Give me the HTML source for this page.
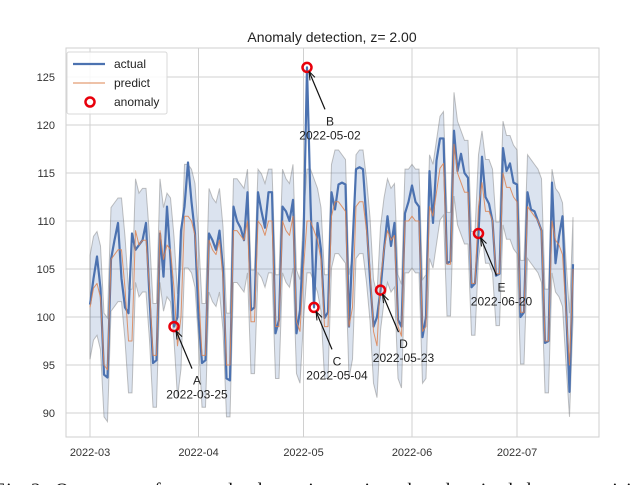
<!DOCTYPE html>
<html><head><meta charset="utf-8">
<style>
html,body{margin:0;padding:0;background:#fff;overflow:hidden;}
body{width:640px;height:485px;}
svg{display:block;}
text{font-family:"Liberation Sans","DejaVu Sans",sans-serif;}
</style></head>
<body>
<svg id="chart" width="640" height="485" viewBox="0 0 640 485"></svg>
<script>
// ---- data ----
const monthTicks = ["2022-03","2022-04","2022-05","2022-06","2022-07"];
const monthTickDays = [0,31,61,92,122];
const yTicks = [90,95,100,105,110,115,120,125];
const actual = [
101.3,104,106.3,103,94,93.7,106,
108,109.8,104,101,100.4,108.7,107,
107.5,108,109.8,102,95.2,95.5,108.7,
104.2,111.5,106,99,100,109,111.5,
116.1,112,108.7,100,95.2,95.5,108.7,
108,107,109,105,93.6,93.4,111.5,
110,109.3,108,113,100.7,101,113,
111,109.3,113,113,98.3,99.7,111.5,
111,110,112.2,98.3,100.7,108,126,
112,101,109.8,107,99.9,100.5,113,
111.2,113.8,114,113.8,99,107.4,115.4,
115.6,115.4,110,104,99,100,102.8,
107,110.5,107.4,109.8,99.7,99,110.8,
112,113.7,112,111.5,97.9,100,115.2,
109.8,116.3,118.6,118.6,105.6,105.8,119.4,
115.2,117,115,114.5,103.1,103.5,108.7,
116.7,112.5,111.8,110,104.3,104.5,117.6,
115.2,116,114,113.8,100,100.5,113,
111.2,111,110,109,97.3,97.5,114,
105.6,108.4,110.5,101.2,92.2,105.5];
const predict = [
101,103,103.5,102,95,94.5,106,
106.5,107,107,103,97.5,97.5,109,
107.5,108,108,103,96,96,109,
106,107.5,107,103,97,100,110.5,
110.5,110,108.5,103,96,96,108,
107,106.5,108,104,95,95,109,
109,108.5,108,110,99.5,99.5,110,
109.5,108.5,110,110,99,99,110,
109,108.5,110.5,99.5,98.5,105,110,
110,109,108,106,99,99,110.5,
112,112,111.5,111,99,101,111.5,
112,112,109,105,98.5,97,104,
107,109,108,108.5,99,98,110,
110,110.5,110,110,98.5,99,111.5,
110.5,113,115.5,116,105.5,105.5,118,
115,114,113,113,103.5,103.5,111.5,
114,111,111,110,104.5,104.5,115,
113.5,113.5,112.5,112,100.5,100.5,111.5,
111,110.5,110,109,97.5,97.5,110,
108,107.5,106.5,100.5,95,105];
const bandWidth = 5.4;
const anomalyDays = [24,62,64,83,111];
const anomalyLetters = ["A","B","C","D","E"];
const anomalyDates = ["2022-03-25","2022-05-02","2022-05-04","2022-05-23","2022-06-20"];

// ---- axes ----
const X0=90, PXD=3.5, Y0=77, PXU=9.6;
const xs = d => X0 + d*PXD;
const ys = v => Y0 + (125 - v)*PXU;
const NS="http://www.w3.org/2000/svg";
const svg=document.getElementById('chart');
function mk(tag, attrs, parent){const e=document.createElementNS(NS,tag);for(const k in attrs)e.setAttribute(k,attrs[k]);(parent||svg).appendChild(e);return e;}

const frame=mk('rect',{x:66,y:48,width:533,height:389,fill:'#fff',stroke:'#cfcfcf','stroke-width':1});



yTicks.forEach(v=>{
  const g=mk('line',{x1:66,x2:599,y1:ys(v),y2:ys(v),stroke:'#d0d0d0','stroke-width':1});
  
  
  const t=mk('text',{x:55,y:ys(v)+4,'text-anchor':'end','font-size':11,fill:'#333'});
  t.textContent=v;
  
  
});
monthTicks.forEach((m,i)=>{
  const x=xs(monthTickDays[i]);
  const g=mk('line',{x1:x,x2:x,y1:48,y2:437,stroke:'#d0d0d0','stroke-width':1});
  
  
  const t=mk('text',{x:x,y:456,'text-anchor':'middle','font-size':11,fill:'#333'});
  t.textContent=m;
  
  
});

let up='',lo='';
predict.forEach((p,i)=>{up+=(i?'L':'M')+xs(i)+','+ys(p+bandWidth);});
for(let i=predict.length-1;i>=0;i--){lo+='L'+xs(i)+','+ys(predict[i]-bandWidth);}
const band=mk('path',{d:up+lo+'Z',fill:'rgba(76,114,176,0.2)',stroke:'rgba(120,120,120,0.45)','stroke-width':1});



function linePath(arr){return arr.map((v,i)=>(i?'L':'M')+xs(i)+','+ys(v)).join('');}
const la=mk('path',{d:linePath(actual),fill:'none',stroke:'#4c72b0','stroke-width':2.2,'stroke-linejoin':'round'});


const lp=mk('path',{d:linePath(predict),fill:'none',stroke:'#dd8452','stroke-width':1,'stroke-linejoin':'round','opacity':0.85});



anomalyDays.forEach((d,i)=>{
  const cx=xs(d), cy=ys(actual[d]);
  const c=mk('circle',{cx:cx,cy:cy,r:4.5,fill:'none',stroke:'#e8000b','stroke-width':2.5});
  
  
  const ax=cx+18, ay=cy+42;
  const ar=mk('line',{x1:ax,y1:ay,x2:cx+2,y2:cy+4,stroke:'#111','stroke-width':1.2});
  
  
  const hd=mk('path',{d:`M${cx+2},${cy+4} l1,9 M${cx+2},${cy+4} l6,6`,stroke:'#111','stroke-width':1,fill:'none'});
  
  
  const t1=mk('text',{x:cx+23,y:cy+58,'text-anchor':'middle','font-size':12,fill:'#222'});
  t1.textContent=anomalyLetters[i];
  
  
  const t2=mk('text',{x:cx+23,y:cy+72,'text-anchor':'middle','font-size':12,fill:'#222'});
  t2.textContent=anomalyDates[i];
  
  
});

const ti=mk('text',{x:332,y:42,'text-anchor':'middle','font-size':14,fill:'#222'});
ti.textContent='Anomaly detection, z= 2.00';



const lg=mk('g',{});


mk('rect',{x:67,y:52,width:100,height:62,fill:'rgba(255,255,255,0.85)',stroke:'#d8d8d8',rx:2},lg);
const e1=mk('line',{x1:73,x2:105,y1:64,y2:64,stroke:'#4c72b0','stroke-width':2.2},lg);


const e2=mk('line',{x1:73,x2:105,y1:83,y2:83,stroke:'#dd8452','stroke-width':1},lg);


const e3=mk('circle',{cx:90,cy:102,r:4.5,fill:'none',stroke:'#e8000b','stroke-width':2.5},lg);


[['actual',68],['predict',87],['anomaly',106]].forEach(([s,y])=>{
  const t=mk('text',{x:114,y:y,'font-size':12,fill:'#222'},lg);
  t.textContent=s;
  
  
});

const cap=mk('text',{x:-6,y:496,'font-size':19,fill:'#111',textLength:660,lengthAdjust:'spacing'});
cap.setAttribute('style','font-family:"Liberation Serif",serif');
cap.textContent='Fig 3.  Outcome of anomaly detection using the classical decomposition';


</script>
</body></html>
